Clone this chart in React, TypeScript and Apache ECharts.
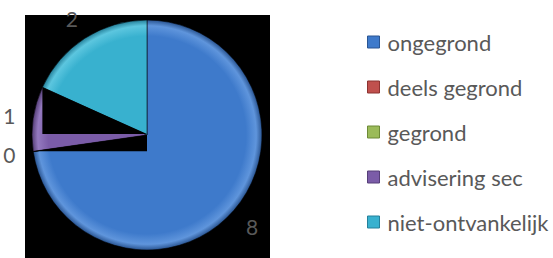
import { useEffect, useRef } from "react";
import * as echarts from "echarts";

const categories = ["ongegrond", "deels gegrond", "gegrond", "advisering sec", "niet-ontvankelijk"];
const values = [8, 0, 0, 1, 2];
const colors = ["#3e7acb", "#c0504d", "#9bbb59", "#7b5ca8", "#38b1cf"];
const rimColors = ["#5f95dc", "#d46a66", "#b3d070", "#9479bf", "#5cc6df"];
const edgeColors = ["#2a5592", "#8c3331", "#6d8a37", "#563f78", "#25809a"];

export default function App() {
  const ref = useRef<HTMLDivElement>(null);
  useEffect(() => {
    const el = ref.current!;
    const chart = echarts.init(el, null, { renderer: "svg" });
    const cx = 147, cy = 135, R = 115;
    const total = values.reduce((a, b) => a + b, 0);
    const pt = (a: number, r: number) => [cx + r * Math.sin(a), cy - r * Math.cos(a)];
    const idx = categories.indexOf("advisering sec");
    const before = values.slice(0, idx).reduce((a, b) => a + b, 0);
    const a1 = (before / total) * Math.PI * 2;
    const a2 = ((before + values[idx]) / total) * Math.PI * 2;
    const p1 = pt(a1, R);
    const p2 = pt(a2, R);

    const grad = (i: number) => ({
      type: "radial",
      x: cx,
      y: cy,
      r: R,
      global: true,
      colorStops: [
        { offset: 0, color: colors[i] },
        { offset: 0.86, color: colors[i] },
        { offset: 0.95, color: rimColors[i] },
        { offset: 1, color: edgeColors[i] },
      ],
    });

    chart.setOption({
      animation: false,
      graphic: [
        {
          type: "rect",
          z: 0,
          shape: { x: 25, y: 15, width: 245, height: 243 },
          style: { fill: "#000" },
        },
        {
          type: "polygon",
          z: 100,
          shape: { points: [p2, [cx, cy - 1], [p2[0], cy - 1]] },
          style: { fill: "#000" },
        },
        {
          type: "polygon",
          z: 100,
          shape: { points: [p1, [cx, cy], [cx, p1[1]]] },
          style: { fill: "#000" },
        },
      ],
      legend: {
        orient: "vertical",
        left: 367,
        top: 31,
        padding: 0,
        itemWidth: 12,
        itemHeight: 12,
        itemGap: 23,
        selectedMode: false,
        icon: "rect",
        textStyle: {
          fontFamily: "Lato",
          fontSize: 22,
          color: "#595959",
          lineHeight: 20,
          padding: [0, 0, 0, 3],
        },
        data: categories.map((n, i) => ({
          name: n,
          itemStyle: { color: colors[i], borderColor: edgeColors[i], borderWidth: 1 },
        })),
      },
      series: [
        {
          type: "pie",
          center: [cx, cy],
          radius: R,
          startAngle: 90,
          clockwise: true,
          silent: true,
          label: { show: false },
          labelLine: { show: false },
          itemStyle: { borderColor: "rgba(0,0,0,0.55)", borderWidth: 1 },
          data: categories.map((n, i) => ({
            name: n,
            value: values[i],
            itemStyle: { color: grad(i) },
          })),
        },
        {
          type: "pie",
          center: [cx, cy],
          radius: [125, 147],
          startAngle: 90,
          clockwise: true,
          silent: true,
          z: 5,
          minShowLabelAngle: 0,
          itemStyle: { color: "transparent" },
          labelLine: { show: false },
          label: {
            show: true,
            position: "inside",
            formatter: "{c}",
            color: "#595959",
            fontFamily: "Lato",
            fontSize: 21,
          },
          data: categories.map((n, i) => ({ name: n, value: values[i] })),
        },
      ],
    });
    return () => chart.dispose();
  }, []);
  return (
    <div
      ref={ref}
      style={{ position: "fixed", left: 0, top: 0, width: 553, height: 258, background: "#fff" }}
    />
  );
}
